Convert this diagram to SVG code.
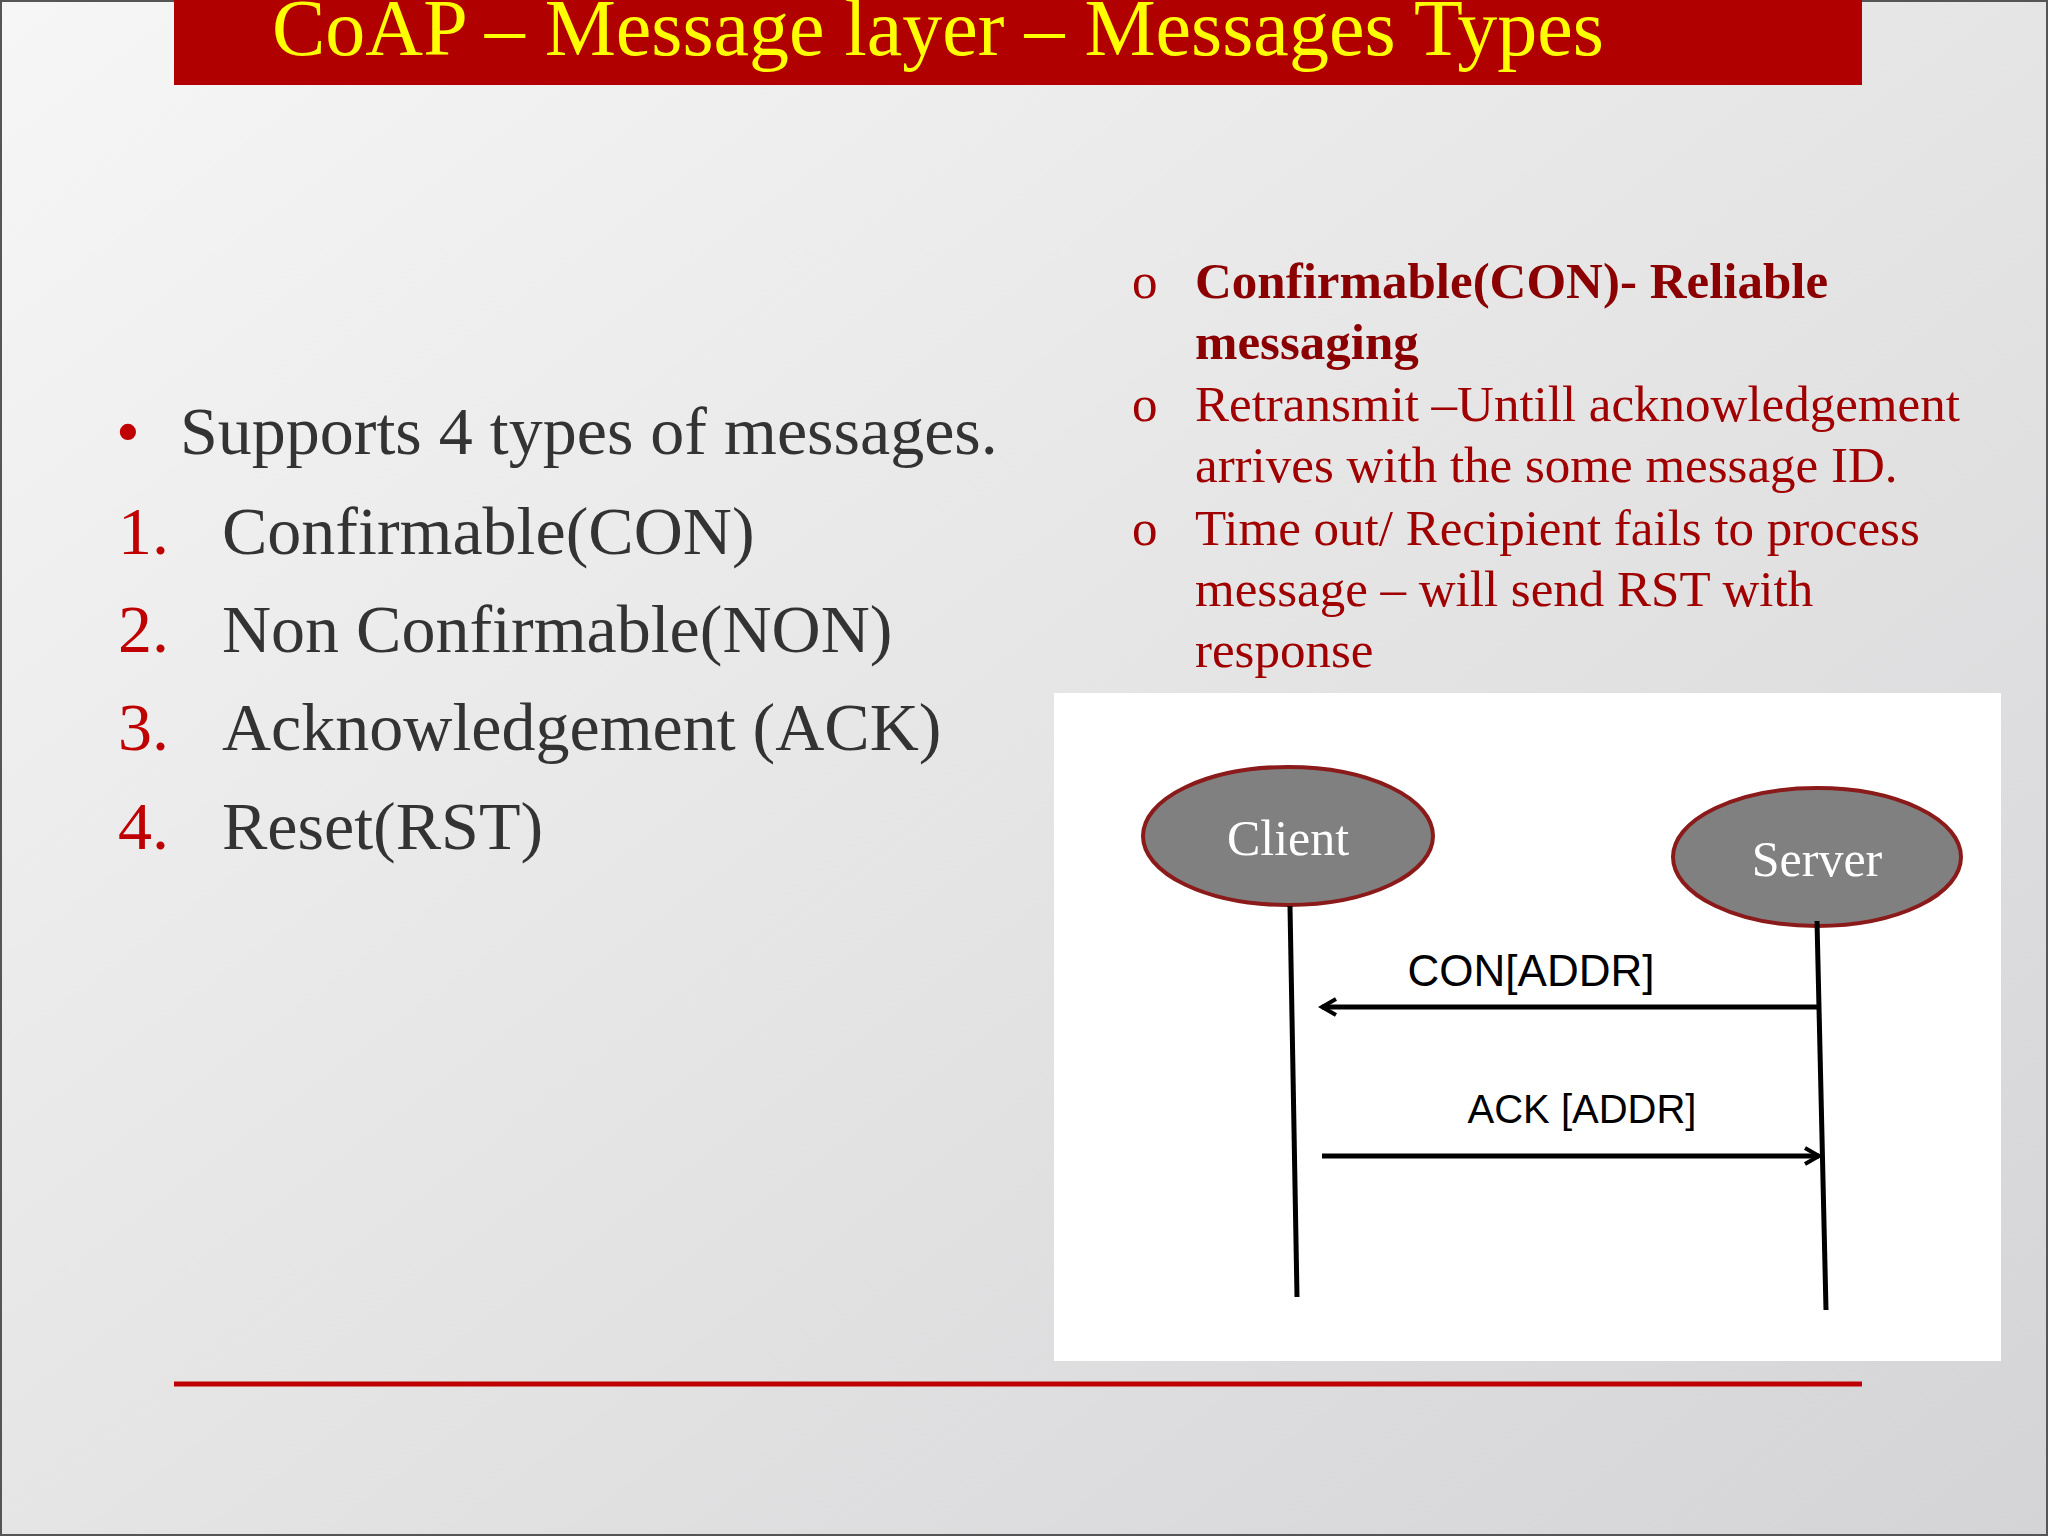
<svg xmlns="http://www.w3.org/2000/svg" width="2048" height="1536" viewBox="0 0 2048 1536">
<defs>
<linearGradient id="bg" x1="0" y1="0" x2="1" y2="1">
<stop offset="0" stop-color="#f6f6f6"/><stop offset="1" stop-color="#d4d4d6"/>
</linearGradient>
<marker id="ah" markerWidth="20" markerHeight="20" refX="16" refY="10" orient="auto" markerUnits="userSpaceOnUse">
<path d="M2,2 L16,10 L2,18" fill="none" stroke="#000" stroke-width="4"/>
</marker>
<style>
.serif{font-family:"Liberation Serif","Times New Roman",serif}
.sans{font-family:"Liberation Sans",Arial,sans-serif}
.main{font-size:68px;fill:#333}
.num{font-size:68px;fill:#C00000}
.r{font-size:51px;fill:#A00000}
.node{fill:#808080;stroke:#8B1A1A;stroke-width:4}
.ntext{font-size:50px;fill:#fff}
.life{stroke:#000;stroke-width:5}
.msg{stroke:#000;stroke-width:5;marker-end:url(#ah)}
</style>
</defs>
<rect width="2048" height="1536" fill="url(#bg)"/>
<rect x="1" y="1" width="2046" height="1534" fill="none" stroke="#555" stroke-width="2"/>
<rect x="174" y="0" width="1688" height="85" fill="#B00000"/>
<text x="938" y="55" text-anchor="middle" class="serif" font-size="80" fill="#FFFF00">CoAP – Message layer – Messages Types</text>
<g class="serif">
<text x="116" y="454" class="num" font-size="54">•</text>
<text x="180" y="454" class="main">Supports 4 types of messages.</text>
<text x="118" y="554" class="num">1.</text><text x="222" y="554" class="main">Confirmable(CON)</text>
<text x="118" y="652" class="num">2.</text><text x="222" y="652" class="main">Non Confirmable(NON)</text>
<text x="118" y="750" class="num">3.</text><text x="222" y="750" class="main">Acknowledgement (ACK)</text>
<text x="118" y="849" class="num">4.</text><text x="222" y="849" class="main">Reset(RST)</text>
<g class="r">
<text x="1132" y="298">o</text><text x="1195" y="298" font-weight="bold" fill="#8B0000">Confirmable(CON)- Reliable</text>
<text x="1195" y="359" font-weight="bold" fill="#8B0000">messaging</text>
<text x="1132" y="421">o</text><text x="1195" y="421">Retransmit –Untill acknowledgement</text>
<text x="1195" y="482">arrives with the some message ID.</text>
<text x="1132" y="545">o</text><text x="1195" y="545">Time out/ Recipient fails to process</text>
<text x="1195" y="606">message – will send RST with</text>
<text x="1195" y="667">response</text>
</g>
</g>
<rect x="1054" y="693" width="947" height="668" fill="#fff"/>
<g id="client"><ellipse cx="1288" cy="836" rx="145" ry="69" class="node"/><text x="1288" y="855" text-anchor="middle" class="serif ntext">Client</text></g>
<g id="server"><ellipse cx="1817" cy="857" rx="144" ry="69" class="node"/><text x="1817" y="876" text-anchor="middle" class="serif ntext">Server</text></g>
<g id="connectors">
<line x1="1290" y1="906" x2="1297" y2="1297" class="life"/>
<line x1="1817" y1="921" x2="1826" y2="1310" class="life"/>
<line x1="1817" y1="1007" x2="1322" y2="1007" class="msg"/>
<line x1="1322" y1="1156" x2="1819" y2="1156" class="msg"/>
<text x="1531" y="986" text-anchor="middle" class="sans" font-size="44">CON[ADDR]</text>
<text x="1582" y="1123" text-anchor="middle" class="sans" font-size="40">ACK [ADDR]</text>
</g>
<line x1="174" y1="1384" x2="1862" y2="1384" stroke="#C00000" stroke-width="5"/>
</svg>
